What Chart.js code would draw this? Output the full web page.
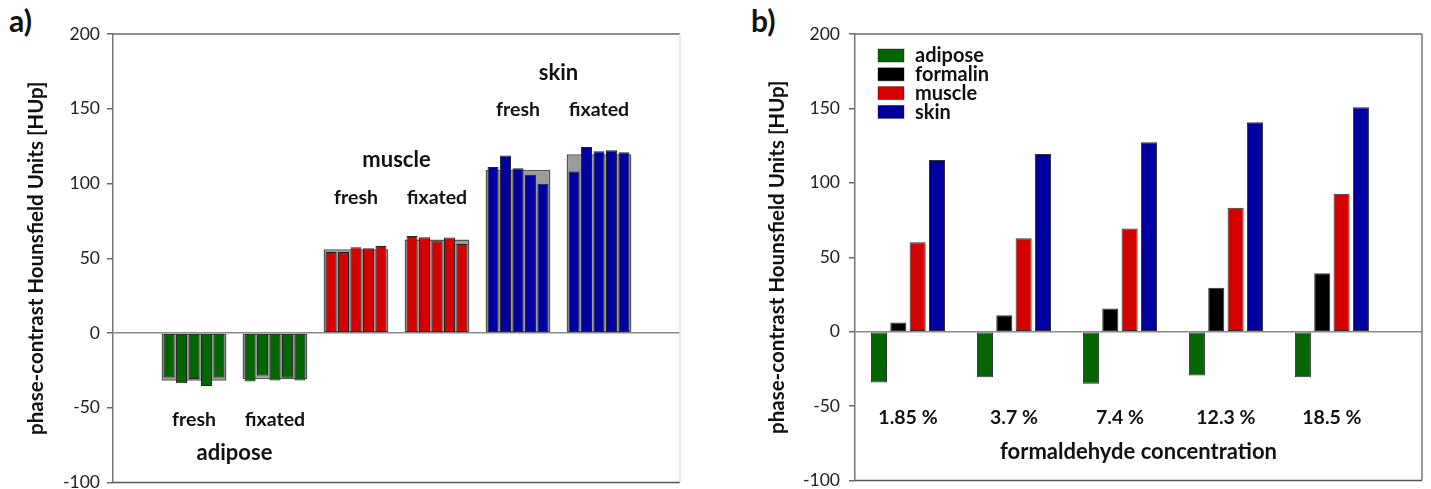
<!DOCTYPE html>
<html>
<head>
<meta charset="utf-8">
<script src="https://cdn.jsdelivr.net/npm/chart.js@4.4.0/dist/chart.umd.min.js"></script>
<style>
  html, body { margin: 0; padding: 0; background: #fff; overflow: hidden; }
  body { width: 1431px; height: 489px; position: relative; }
  canvas { position: absolute; top: 0; }
  #chartA { left: 0; }
  #chartB { left: 720px; }
  .tag { position: absolute; top: 2px; font: bold 30px Lato, sans-serif; color: #111; }
</style>
</head>
<body>
<div class="tag" style="left:9px">a)</div>
<div class="tag" style="left:751px">b)</div>
<canvas id="chartA" width="700" height="500"></canvas>
<canvas id="chartB" width="711" height="500"></canvas>
<script>
// panel a) - five single measurements per group plus the group mean (grey)
const groupSubLabels = ["fresh", "fixated", "fresh", "fixated", "fresh", "fixated"];
const tissueLabels = ["adipose", "muscle", "skin"];
const groupMeans = [-32, -31, 56, 62.5, 109, 119.5];
const sample1 = [-29.8, -32.4, 54.2, 64.9, 111.1, 108];
const sample2 = [-33.6, -28.4, 54.2, 64, 118.7, 124.4];
const sample3 = [-30.7, -31.8, 57.3, 61.3, 110.2, 121.6];
const sample4 = [-35.5, -30, 56.7, 63.8, 105.8, 122.2];
const sample5 = [-29.8, -31.8, 58.2, 59.5, 99.8, 120.9];

// panel b) - formaldehyde series
const concentrations = ["1.85 %", "3.7 %", "7.4 %", "12.3 %", "18.5 %"];
const adipose = [-34.2, -30.7, -35, -29.5, -30.7];
const formalin = [6.2, 11, 15.5, 29.5, 39.3];
const muscle = [60, 62.7, 69.3, 83.3, 92.7];
const skin = [115.3, 119.3, 127.3, 140.7, 150.7];

const yTicks = { min: -100, max: 200, step: 50 };

const GREEN = "#036603";
const RED = "#d50000";
const BLUE = "#0000a0";
const BLACK = "#000000";
const FONT = "Lato";

const points = values => values.map((v, i) => ({ x: i + 1, y: v }));

function yAxis(width, titlePad, tickPad) {
  return {
    min: yTicks.min,
    max: yTicks.max,
    ticks: {
      stepSize: yTicks.step,
      color: "#222",
      padding: tickPad,
      font: { family: FONT, size: 17.5 }
    },
    grid: {
      color: ctx => (ctx.tick && ctx.tick.value === 0 ? "#8a8a8a" : "rgba(0,0,0,0)"),
      lineWidth: 1.5,
      tickColor: "#666",
      tickLength: 6,
      tickWidth: 1.5
    },
    border: { color: "#777", width: 1.5 },
    title: {
      display: true,
      text: "phase-contrast Hounsfield Units [HUp]",
      color: "#111",
      font: { family: FONT, size: 20.5, weight: "bold" },
      padding: { top: titlePad, bottom: 0 }
    },
    afterFit: scale => {
      scale.width = width;
    }
  };
}

// frame round the plot area plus free text labels
function framePlugin(colors, notes) {
  return {
    id: "frame",
    afterDraw(chart) {
      const { ctx, chartArea: a } = chart;
      ctx.save();
      ctx.lineWidth = 1.5;
      ctx.strokeStyle = colors.top;
      ctx.beginPath();
      ctx.moveTo(a.left, a.top);
      ctx.lineTo(a.right, a.top);
      ctx.stroke();
      ctx.strokeStyle = colors.bottom;
      ctx.beginPath();
      ctx.moveTo(a.left, a.bottom);
      ctx.lineTo(a.right, a.bottom);
      ctx.stroke();
      ctx.strokeStyle = colors.right;
      ctx.beginPath();
      ctx.moveTo(a.right, a.top);
      ctx.lineTo(a.right, a.bottom);
      ctx.stroke();

      ctx.fillStyle = "#111";
      ctx.textAlign = "center";
      ctx.textBaseline = "middle";
      notes(chart).forEach(n => {
        ctx.font = "bold " + n.size + "px " + FONT;
        ctx.fillText(n.text, n.x, n.y);
      });
      ctx.restore();
    }
  };
}

const chartA = new Chart(document.getElementById("chartA"), {
  type: "bar",
  data: {
    datasets: [
      ...[sample1, sample2, sample3, sample4, sample5].map((s, k) => ({
        label: "measurement " + (k + 1),
        data: points(s),
        backgroundColor: [GREEN, GREEN, RED, RED, BLUE, BLUE],
        borderColor: "#222",
        borderWidth: 1,
        borderSkipped: false,
        categoryPercentage: 0.77,
        barPercentage: 0.88
      })),
      {
        label: "mean",
        data: points(groupMeans),
        backgroundColor: "#9b9b9b",
        borderColor: "#555",
        borderWidth: 1.5,
        borderSkipped: false,
        grouped: false,
        categoryPercentage: 1,
        barPercentage: 0.8
      }
    ]
  },
  options: {
    responsive: false,
    animation: false,
    layout: { padding: { top: 34, right: 20, bottom: 16, left: 0 } },
    plugins: { legend: { display: false }, tooltip: { enabled: false } },
    scales: {
      x: { type: "linear", display: false, min: 0, max: 7, offset: false, ticks: { stepSize: 1 } },
      y: yAxis(113, 24, 7)
    }
  },
  plugins: [
    framePlugin({ top: "#666", bottom: "#555", right: "#e2e2e2" }, chart => {
      const x = chart.scales.x;
      const y = chart.scales.y;
      const subY = [-58, -58, 90.5, 90.5, 149.5, 149.5];
      const tissueY = [-80.5, 116, 174];
      const notes = groupSubLabels.map((t, i) => ({
        text: t,
        x: x.getPixelForValue(i + 1),
        y: y.getPixelForValue(subY[i]),
        size: 19.5
      }));
      tissueLabels.forEach((t, i) => {
        notes.push({
          text: t,
          x: x.getPixelForValue(2 * i + 1.5),
          y: y.getPixelForValue(tissueY[i]),
          size: 22
        });
      });
      return notes;
    })
  ]
});

const seriesB = [
  { label: "adipose", data: adipose, color: GREEN },
  { label: "formalin", data: formalin, color: BLACK },
  { label: "muscle", data: muscle, color: RED },
  { label: "skin", data: skin, color: BLUE }
];

const chartB = new Chart(document.getElementById("chartB"), {
  type: "bar",
  data: {
    datasets: seriesB.map(s => ({
      label: s.label,
      data: points(s.data),
      backgroundColor: s.color,
      borderColor: "#333",
      borderWidth: 1,
      borderSkipped: false,
      categoryPercentage: 0.73,
      barPercentage: 0.83
    }))
  },
  options: {
    responsive: false,
    animation: false,
    layout: { padding: { top: 34, right: 9, bottom: 16, left: 0 } },
    plugins: { legend: { display: false }, tooltip: { enabled: false } },
    scales: {
      x: {
        type: "linear",
        display: false,
        min: 0.5,
        max: 5.85,
        offset: false,
        ticks: { stepSize: 1, includeBounds: false }
      },
      y: yAxis(135, 45, 9)
    }
  },
  plugins: [
    framePlugin({ top: "#666", bottom: "#555", right: "#777" }, chart => {
      const x = chart.scales.x;
      const y = chart.scales.y;
      const a = chart.chartArea;
      const notes = concentrations.map((t, i) => ({
        text: t,
        x: x.getPixelForValue(i + 1),
        y: y.getPixelForValue(-58),
        size: 19.5
      }));
      notes.push({
        text: "formaldehyde concentration",
        x: (a.left + a.right) / 2,
        y: y.getPixelForValue(-80.5),
        size: 22
      });
      return notes;
    }),
    {
      id: "insideLegend",
      afterDraw(chart) {
        const { ctx, chartArea: a } = chart;
        ctx.save();
        ctx.textAlign = "left";
        ctx.textBaseline = "middle";
        ctx.font = "bold 20px " + FONT;
        chart.data.datasets.forEach((ds, i) => {
          const top = a.top + 15 + i * 18.8;
          ctx.fillStyle = ds.backgroundColor;
          ctx.fillRect(a.left + 23, top, 26, 13);
          ctx.strokeStyle = "rgba(0,0,0,0.35)";
          ctx.lineWidth = 1;
          ctx.strokeRect(a.left + 23, top, 26, 13);
          ctx.fillStyle = "#111";
          ctx.fillText(ds.label, a.left + 60, top + 7);
        });
        ctx.restore();
      }
    }
  ]
});
</script>
</body>
</html>
